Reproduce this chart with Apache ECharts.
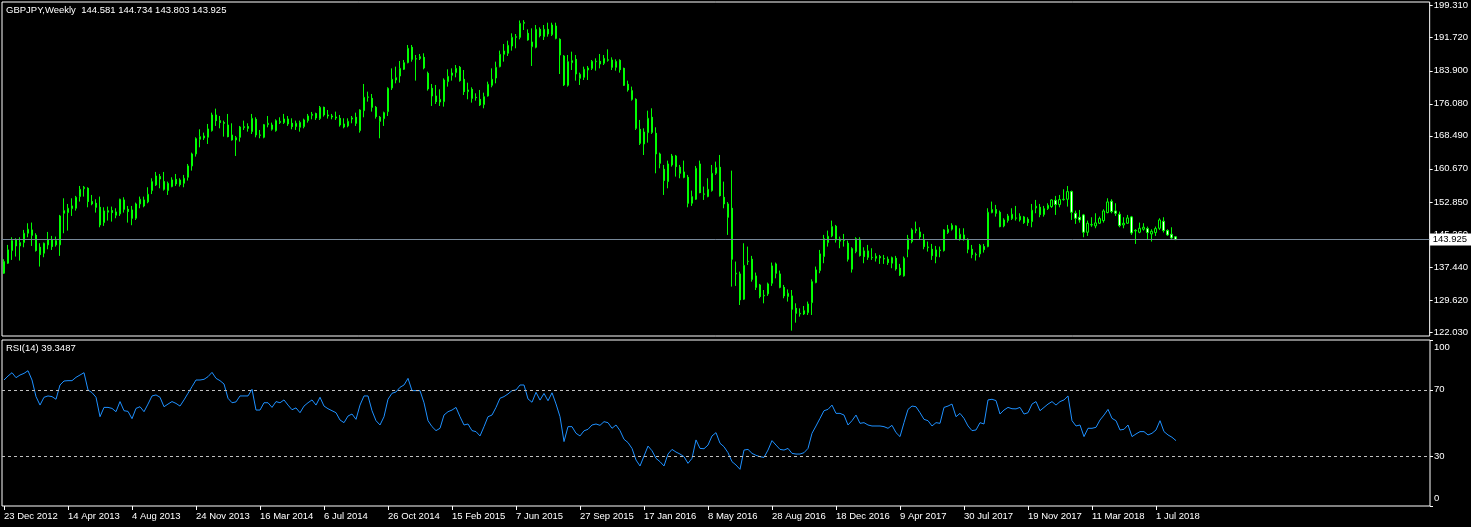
<!DOCTYPE html>
<html>
<head>
<meta charset="utf-8">
<script src="https://cdn.jsdelivr.net/npm/echarts@6/dist/echarts.min.js"></script>
<style>
html,body{margin:0;padding:0;background:#000;}
#chart{width:1471px;height:527px;}
</style>
</head>
<body>
<div id="chart"></div>
<script>
// ---------- DATA (GBPJPY weekly) ----------
const symbolTitle = 'GBPJPY,Weekly';
const firstWeek = '2012-12-23';
const xTickLabels = ['23 Dec 2012','14 Apr 2013','4 Aug 2013','24 Nov 2013','16 Mar 2014','6 Jul 2014','26 Oct 2014','15 Feb 2015','7 Jun 2015','27 Sep 2015','17 Jan 2016','8 May 2016','28 Aug 2016','18 Dec 2016','9 Apr 2017','30 Jul 2017','19 Nov 2017','11 Mar 2018','1 Jul 2018'];
const priceTicks = [122.030,129.620,137.440,145.260,152.850,160.670,168.490,176.080,183.900,191.720,199.310];
const rsiTicks = [0,30,70,100];
const rsiLevels = [70,30];

const opens = [
135.95,138.32,141.32,143.84,142.42,143.21,145.42,146.21,144.95,142.10,
140.69,142.66,143.84,142.66,142.66,150.15,150.31,151.26,151.34,154.10,
155.99,156.07,152.92,152.52,151.57,147.94,150.39,150.78,149.68,150.00,
153.31,151.10,150.94,148.97,152.36,153.31,152.84,155.52,156.86,158.83,
157.65,155.52,156.47,158.20,158.04,157.25,158.67,161.36,164.20,167.67,
167.98,168.14,169.72,173.43,172.09,171.62,171.06,168.70,167.51,168.14,
170.43,170.67,169.48,172.40,168.70,168.14,171.14,170.04,169.72,171.62,
171.62,172.48,171.46,170.67,170.51,170.67,172.09,173.35,173.75,172.56,
175.24,173.43,173.19,172.96,172.64,171.30,170.83,172.48,172.88,169.72,
174.45,177.61,177.37,175.24,172.88,172.56,174.22,179.82,181.71,182.66,
184.24,185.82,189.45,186.68,186.76,187.08,183.29,179.74,177.93,176.50,
176.58,181.32,182.82,183.45,184.71,181.87,178.95,179.50,177.61,177.14,
175.88,177.93,180.45,182.18,184.87,187.79,188.03,189.76,191.81,191.81,
195.13,192.76,189.60,189.45,193.71,191.97,193.71,192.44,194.49,191.34,
187.40,180.45,185.82,186.61,182.10,182.34,184.08,184.47,186.05,186.13,
185.66,186.37,186.45,184.71,186.37,184.47,180.69,179.19,177.14,170.04,
166.56,169.25,172.88,169.09,164.20,160.57,157.65,161.59,163.72,161.04,
159.94,158.67,152.52,153.47,161.83,154.65,154.10,155.52,159.62,161.04,
153.94,152.36,151.34,135.79,135.79,129.79,138.72,139.27,135.32,133.18,
130.59,131.06,133.58,138.16,135.79,132.61,130.43,130.59,127.64,126.30,
126.30,126.62,128.99,133.74,136.58,139.90,143.21,144.79,147.08,143.53,
143.76,143.05,136.90,141.08,143.99,141.24,141.24,139.66,139.50,139.90,
139.42,139.27,138.32,139.50,137.14,135.32,141.63,143.45,146.05,145.73,
143.99,142.02,141.63,139.90,141.47,141.32,145.58,146.37,147.16,143.99,
145.02,143.99,141.63,140.29,140.53,142.26,142.26,150.31,151.02,150.39,
147.16,148.42,148.89,148.97,148.57,149.29,148.73,148.18,151.42,151.57,
149.84,151.26,151.73,153.23,152.21,153.39,153.47,155.28,150.15,149.21,
149.76,145.66,147.39,147.16,147.79,148.42,150.31,152.99,150.70,149.92,
147.39,147.79,149.29,145.97,145.66,146.37,146.52,145.26,145.58,146.60,
148.26,146.05,145.18,144.581];

const highs = [
139.27,142.66,144.47,144.24,144.47,146.21,147.79,147.95,145.42,143.05,
143.21,145.73,144.79,144.63,149.76,153.70,152.36,153.70,154.26,156.62,
156.62,156.31,154.49,153.47,154.10,151.57,151.73,151.73,151.34,153.60,
153.94,151.89,151.89,152.68,154.10,154.10,156.31,158.44,159.94,159.46,
159.94,157.65,158.67,159.46,158.44,159.23,161.83,164.51,168.14,170.04,
169.25,171.30,173.98,174.93,173.19,172.09,173.67,171.46,168.46,170.83,
172.09,171.46,173.67,172.88,169.88,171.30,173.19,171.62,172.40,172.88,
173.67,173.19,172.64,172.09,172.09,172.56,173.67,174.14,173.98,175.56,
175.40,174.61,173.67,174.22,173.43,172.64,172.64,173.19,173.98,174.77,
180.77,178.95,178.40,175.56,173.19,174.22,179.98,184.47,184.87,186.21,
186.45,190.00,190.00,187.63,187.87,188.03,183.69,180.77,180.53,179.50,
182.10,184.24,184.47,185.26,185.03,184.08,181.08,179.98,178.56,179.35,
178.71,181.32,184.47,186.05,188.66,190.24,191.02,192.76,192.60,195.80,
195.88,193.71,193.94,194.73,194.18,194.73,195.28,195.28,195.28,191.58,
187.63,187.63,188.42,187.63,183.45,184.87,185.03,186.45,186.84,187.87,
187.63,188.97,187.08,186.61,186.61,184.63,181.56,180.14,177.37,172.25,
170.27,174.45,175.01,170.51,164.51,161.59,162.62,164.20,163.96,161.59,
162.62,159.23,155.52,161.36,162.62,156.47,158.44,161.59,162.38,163.96,
157.65,152.80,160.25,138.72,136.33,143.05,142.26,140.06,136.11,133.42,
131.98,133.74,138.48,138.48,136.58,133.18,132.13,131.98,128.83,127.64,
128.20,129.24,134.51,137.53,141.47,145.03,146.05,148.42,147.39,144.63,
145.26,143.68,142.10,144.47,144.47,142.10,142.66,141.87,140.69,140.29,
140.29,139.90,139.90,140.06,138.16,139.90,145.03,146.60,148.18,146.84,
145.26,143.45,142.89,142.42,142.26,146.37,147.39,147.79,147.31,146.60,
146.60,144.24,142.66,140.84,142.89,142.89,151.34,152.92,152.13,150.78,
148.97,150.00,151.34,151.89,150.15,149.52,149.21,152.36,153.31,152.36,
151.89,152.52,153.47,154.26,154.49,155.83,156.62,155.52,150.78,150.94,
150.00,148.42,149.21,150.15,149.36,151.10,153.70,153.47,152.52,150.55,
149.21,149.76,149.52,146.37,147.94,147.79,147.00,146.37,147.00,148.97,
149.21,146.37,146.84,144.734];

const lows = [
135.79,138.16,139.11,139.90,138.95,142.10,144.47,142.42,141.08,137.53,
139.74,141.63,141.47,142.26,140.06,145.42,146.05,149.52,150.78,152.92,
154.10,151.57,152.05,150.31,146.84,147.16,148.42,148.18,148.97,149.52,
150.31,147.94,147.32,148.57,151.34,151.57,152.52,154.70,156.62,156.07,
155.52,154.49,156.31,156.62,156.47,156.31,157.89,160.25,163.57,165.77,
167.51,166.56,169.50,170.83,170.27,168.30,168.14,167.35,163.72,167.12,
169.88,169.48,168.93,168.14,167.91,167.91,170.51,169.72,169.48,171.30,
171.30,170.83,170.04,169.88,169.48,170.27,171.62,172.40,172.25,172.25,
173.04,172.56,172.40,172.25,170.67,170.27,170.51,171.46,170.83,169.25,
172.88,176.58,174.22,172.56,167.91,170.83,173.19,179.35,180.92,181.08,
184.08,185.66,186.05,181.56,186.45,184.24,179.19,175.56,176.03,175.56,
175.40,180.14,181.56,182.34,181.32,178.16,177.14,176.35,176.82,175.56,
175.01,177.77,179.98,180.92,184.71,186.05,187.40,188.66,189.21,191.34,
193.55,191.02,185.03,189.21,191.81,191.18,191.97,192.13,191.34,183.13,
180.29,180.14,184.08,181.56,180.53,181.71,181.71,184.08,183.92,184.47,
185.26,186.05,184.08,183.92,183.45,180.29,178.95,176.82,169.88,166.33,
163.95,166.88,168.93,159.62,160.81,154.49,156.07,161.20,158.83,158.44,
158.44,151.57,151.89,153.31,154.89,153.31,153.94,155.28,159.23,154.10,
151.34,145.03,132.79,132.95,128.43,129.64,137.92,133.96,131.98,130.03,
128.83,130.59,132.95,134.75,132.40,130.03,129.24,122.36,124.25,125.67,
126.07,126.07,126.07,133.58,135.95,138.32,142.26,144.47,143.21,141.87,
142.26,138.72,136.11,140.69,139.90,138.32,139.11,139.11,138.72,138.16,
138.16,137.92,137.14,136.58,135.32,135.16,139.74,143.05,145.42,143.84,
141.63,141.08,139.11,138.32,139.74,141.08,145.26,146.05,143.84,143.68,
143.68,140.69,139.50,138.95,139.74,140.84,142.10,150.15,149.36,146.84,
146.84,147.94,148.57,148.42,148.18,147.63,147.16,146.84,150.15,149.21,
149.36,150.94,151.42,149.76,151.57,153.15,151.73,148.57,147.63,147.94,
144.47,144.79,146.95,146.60,147.63,147.94,150.15,150.15,149.52,146.84,
146.60,147.63,145.03,142.89,145.42,146.05,143.99,143.45,144.79,146.21,
145.58,144.79,144.00,143.803];

const closes = [
138.72,141.49,143.68,142.42,143.21,145.42,146.37,144.95,141.32,140.37,
143.05,143.84,142.26,143.68,149.52,150.78,151.34,151.89,153.94,155.83,
156.31,152.92,152.36,151.57,147.39,150.70,150.78,150.31,150.47,153.47,
151.10,150.55,148.97,152.36,153.47,151.89,154.65,157.65,158.98,158.28,
155.83,157.25,158.04,157.10,156.94,158.44,161.36,164.20,167.83,168.30,
168.46,170.12,173.43,172.09,171.62,171.46,168.30,167.51,168.06,170.59,
170.67,170.27,172.64,168.70,168.62,171.14,171.46,171.06,172.09,171.93,
172.48,171.30,170.67,171.46,171.69,172.25,173.19,173.59,172.72,175.24,
173.43,173.19,172.96,172.72,171.06,170.59,171.93,172.72,171.46,174.61,
177.61,177.70,175.24,173.04,171.93,173.98,179.74,181.87,182.26,184.47,
185.82,189.21,186.61,186.76,187.24,184.55,179.58,177.93,176.58,177.13,
181.71,182.58,183.37,184.47,181.56,178.95,179.35,177.37,177.53,175.80,
177.77,180.69,181.87,184.71,187.79,188.58,189.92,191.81,191.97,195.13,
195.36,191.18,190.71,193.71,192.21,193.71,192.60,194.73,191.58,187.63,
180.53,186.05,186.29,183.13,183.05,184.24,184.55,186.13,186.13,185.50,
186.84,186.53,184.71,186.13,184.16,180.45,179.35,177.14,170.27,166.72,
169.40,172.64,169.32,164.20,162.00,157.89,161.83,163.72,161.20,159.62,
158.67,152.52,154.10,160.81,155.04,154.73,155.83,159.62,160.96,154.33,
152.36,149.21,139.27,135.95,129.64,137.82,138.79,134.51,132.61,130.43,
130.74,133.42,137.69,135.95,132.61,130.59,131.22,127.43,126.46,126.46,
127.09,128.67,133.96,136.74,140.53,144.16,144.71,147.00,143.84,144.08,
143.68,139.27,141.79,144.16,140.13,139.90,139.74,139.70,139.98,139.58,
139.34,138.48,139.66,136.98,135.56,139.50,144.16,146.21,146.37,144.55,
142.26,142.18,140.13,141.47,141.32,146.21,146.37,147.31,144.08,145.18,
144.08,141.63,140.37,140.37,142.58,141.55,150.39,151.02,150.15,147.00,
148.57,149.52,149.92,149.05,149.44,147.94,147.94,150.86,151.81,149.84,
151.26,152.05,153.31,152.21,153.39,153.47,155.28,150.39,148.97,148.57,
145.66,147.79,147.47,147.87,148.89,150.70,152.84,150.55,150.15,147.23,
147.79,149.05,145.50,146.13,146.60,146.84,145.58,145.89,146.52,148.57,
146.05,145.03,144.32,143.925];

const rsi14 = [
75.9,78.3,80.3,77.3,78.9,79.9,81.5,75.9,65.9,60.8,
65.5,66.3,65.9,64.3,72.9,75.3,75.5,75.5,77.5,78.9,
80.3,69.9,68.3,65.5,53.8,59.4,59.4,58.8,56.8,62.9,
57.4,57.0,52.6,58.8,59.8,56.8,61.4,66.3,66.9,65.5,
59.8,61.4,62.9,61.8,60.2,63.9,67.9,71.9,75.9,75.9,
76.3,77.9,80.5,76.9,75.5,73.5,64.9,62.2,62.7,66.3,
66.3,66.3,70.3,57.8,57.8,62.2,62.2,59.4,62.9,62.2,
63.9,60.8,58.0,59.1,56.2,60.2,62.2,63.9,60.8,65.5,
60.2,58.6,57.4,56.2,51.8,50.2,54.2,55.4,52.2,60.8,
66.3,66.3,57.4,51.4,48.8,53.8,64.3,67.9,68.7,71.5,
72.9,76.9,69.5,69.5,69.5,62.2,51.4,47.8,45.4,46.8,
54.8,56.8,57.8,59.4,53.8,48.8,49.4,45.4,44.8,42.2,
47.8,53.8,54.8,59.4,64.9,65.9,67.5,69.5,69.9,72.9,
72.9,64.5,62.5,68.5,63.8,67.8,63.4,68.2,61.5,53.8,
38.8,47.8,47.8,43.8,42.2,45.3,46.2,48.8,49.4,48.6,
50.8,50.2,46.8,48.8,45.4,40.2,38.2,34.7,27.7,24.1,
30.1,36.1,33.3,28.7,26.7,24.1,31.3,34.1,32.5,31.3,
29.7,25.7,28.7,39.8,34.7,34.5,36.7,42.2,44.2,37.8,
35.7,32.1,26.7,24.7,22.1,33.7,34.1,31.7,30.5,29.7,
29.3,33.7,39.4,36.7,34.1,33.7,34.7,31.7,31.3,31.3,
32.1,34.7,43.8,48.2,52.8,57.4,58.2,60.8,55.8,55.8,
54.8,48.8,51.4,54.8,49.8,50.2,48.8,48.2,48.2,48.2,
47.8,46.8,48.6,44.2,41.8,50.2,58.2,60.2,59.8,56.2,
52.2,51.4,48.2,50.2,49.8,59.4,60.2,61.4,53.8,55.8,
52.8,48.2,45.4,45.8,50.2,49.4,63.9,64.3,63.5,55.4,
57.8,59.4,58.6,58.5,59.4,55.4,56.2,61.4,62.9,57.4,
59.4,61.4,62.9,60.8,62.9,63.9,66.3,51.4,48.2,48.8,
41.8,46.8,46.8,47.4,51.8,54.8,58.2,52.8,51.4,45.8,
46.2,48.8,41.8,43.4,44.8,44.8,42.8,43.8,45.8,51.4,
44.8,42.8,41.4,39.3487];

// ---------- BUILD ----------
const FONT = "'Liberation Sans', Arial, sans-serif";
const FS = 9.5;
const TXT = '#ffffff';
const totalSlots = 357;           // visible bar slots incl. empty right margin
const cats = [];
const d0 = new Date(firstWeek + 'T00:00:00Z');
for (let i = 0; i < totalSlots; i++) {
  const d = new Date(d0.getTime() + i * 7 * 86400000);
  cats.push(d.toISOString().slice(0, 10));
}
const n = closes.length;
const candles = opens.map((o, i) => [o, closes[i], lows[i], highs[i]]);
const lastO = opens[n - 1], lastH = highs[n - 1], lastL = lows[n - 1], lastC = closes[n - 1];
const tickEvery = 16;
const showTick = (idx) => idx % tickEvery === 0 && idx < n;

const chart = echarts.init(document.getElementById('chart'), null, {renderer: 'canvas'});
chart.setOption({
  backgroundColor: '#000000',
  animation: false,
  textStyle: {fontFamily: FONT},
  title: [
    {text: symbolTitle + '  ' + [lastO, lastH, lastL, lastC].map(v => v.toFixed(3)).join(' '),
     left: 6, top: 5, padding: 0,
     textStyle: {color: TXT, fontSize: FS, fontWeight: 'normal', fontFamily: FONT}},
    {text: 'RSI(14) ' + rsi14[n - 1].toFixed(4),
     left: 6, top: 343, padding: 0,
     textStyle: {color: TXT, fontSize: FS, fontWeight: 'normal', fontFamily: FONT}}
  ],
  grid: [
    {left: 2, top: 2, width: totalSlots * 4, height: 334, show: true, borderColor: '#ffffff', borderWidth: 1, backgroundColor: '#000000'},
    {left: 2, top: 340, width: totalSlots * 4, height: 166, show: true, borderColor: '#ffffff', borderWidth: 1, backgroundColor: '#000000'}
  ],
  xAxis: [
    {type: 'category', gridIndex: 0, data: cats, boundaryGap: true,
     axisLine: {show: false}, axisTick: {show: false}, axisLabel: {show: false}, splitLine: {show: false}},
    {type: 'category', gridIndex: 1, data: cats, boundaryGap: true,
     axisLine: {show: false},
     axisTick: {show: true, alignWithLabel: true, interval: showTick, length: 4, lineStyle: {color: '#ffffff'}},
     axisLabel: {interval: showTick, align: 'left', margin: 5, color: TXT, fontSize: FS, fontFamily: FONT,
                 formatter: (v, idx) => xTickLabels[idx / tickEvery] || ''},
     splitLine: {show: false}}
  ],
  yAxis: [
    {type: 'value', gridIndex: 0, position: 'right', min: 121.09, max: 200.18, scale: true,
     axisLine: {show: false}, splitLine: {show: false},
     axisTick: {show: true, customValues: priceTicks, length: 3, lineStyle: {color: '#ffffff'}},
     axisLabel: {customValues: priceTicks, margin: 4, color: TXT, fontSize: FS, fontFamily: FONT,
                 formatter: v => v.toFixed(3)}},
    {type: 'value', gridIndex: 1, position: 'right', min: 0, max: 100,
     axisLine: {show: false}, splitLine: {show: false},
     axisTick: {show: true, customValues: rsiTicks, length: 3, lineStyle: {color: '#ffffff'}},
     axisLabel: {customValues: rsiTicks, margin: 4, color: TXT, fontSize: FS, fontFamily: FONT,
                 formatter: v => v === 100 ? '{t|100}' : (v === 0 ? '{b|0}' : String(v)),
                 rich: {
                   t: {color: TXT, fontSize: FS, fontFamily: FONT, padding: [14, 0, 0, 0]},
                   b: {color: TXT, fontSize: FS, fontFamily: FONT, padding: [0, 0, 16, 0]}
                 }}}
  ],
  series: [
    {type: 'candlestick', name: 'GBPJPY', xAxisIndex: 0, yAxisIndex: 0, data: candles,
     barWidth: 2, large: false,
     itemStyle: {color: '#000000', color0: '#ffffff', borderColor: '#00ff00', borderColor0: '#00ff00', borderWidth: 1},
     markLine: {silent: true, symbol: 'none', animation: false,
       data: [{yAxis: lastC}],
       lineStyle: {color: '#778899', type: 'solid', width: 1},
       label: {show: true, position: 'end', distance: 0, formatter: lastC.toFixed(3),
               backgroundColor: '#ffffff', color: '#000000', fontSize: FS, fontFamily: FONT, padding: [1, 4, 1, 3]}}},
    {type: 'line', name: 'RSI(14)', xAxisIndex: 1, yAxisIndex: 1, data: rsi14,
     showSymbol: false, symbol: 'none', lineStyle: {color: '#1e90ff', width: 1}, z: 3,
     markLine: {silent: true, symbol: 'none', animation: false,
       data: rsiLevels.map(v => ({yAxis: v})),
       lineStyle: {color: '#c0c0c0', type: [3, 3], width: 1},
       label: {show: false}}}
  ]
});
</script>
</body>
</html>
